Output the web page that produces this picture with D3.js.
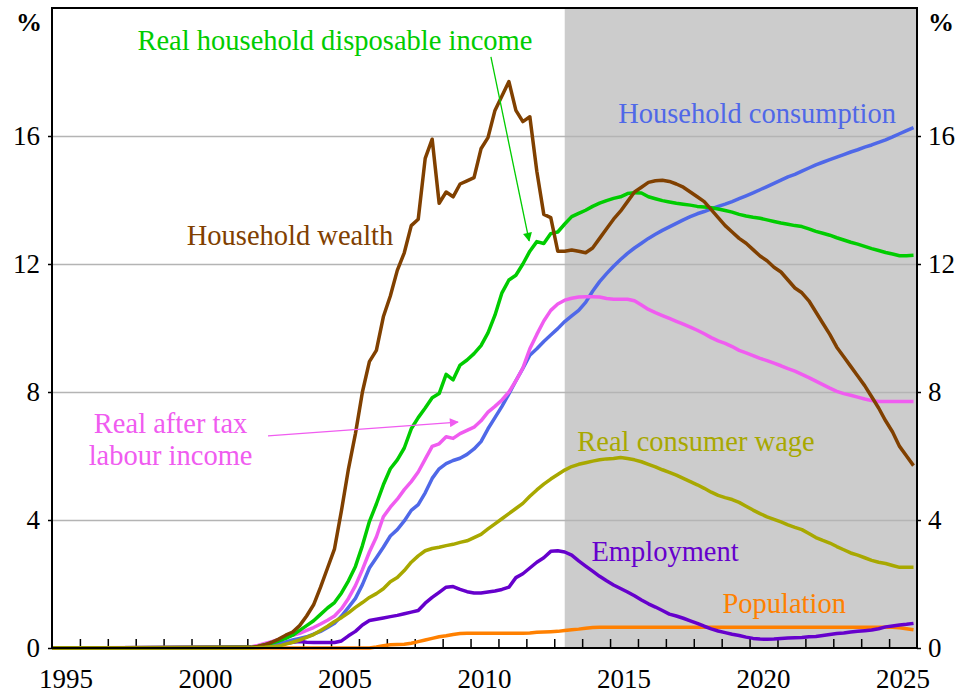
<!DOCTYPE html>
<html>
<head>
<meta charset="utf-8">
<script src="https://cdn.jsdelivr.net/npm/d3@7/dist/d3.min.js"></script>
<style>
  body { margin: 0; background: #fff; }
  text { font-family: "Liberation Serif", "Times New Roman", serif; }
</style>
</head>
<body>
<svg id="chart" width="960" height="695"></svg>
<script>
// quarterly points (mid-quarter) from 2002Q1 to 2025Q4; every series is 0 before that
const firstQuarter = 2002.125;
const flatFrom = 1995;
const projectionStart = 2013.375;
const yearLabels = [1995, 2000, 2005, 2010, 2015, 2020, 2025];
const yTicks = [0, 4, 8, 12, 16];

const householdWealth = [
  0.02, 0.05, 0.1, 0.18, 0.28, 0.4, 0.5, 0.7, 1.0, 1.35, 1.9, 2.5,
  3.1, 4.3, 5.6, 6.7, 8.0, 8.95, 9.3, 10.35, 11.0, 11.8, 12.35, 13.2,
  13.4, 15.3, 15.9, 13.9, 14.25, 14.1, 14.5, 14.6, 14.7, 15.6, 15.95, 16.8,
  17.25, 17.7, 16.8, 16.45, 16.6, 14.9, 13.55, 13.45, 12.4, 12.4, 12.44, 12.4,
  12.35, 12.5, 12.8, 13.1, 13.4, 13.65, 13.95, 14.25, 14.4, 14.55, 14.6, 14.62,
  14.58, 14.5, 14.4, 14.25, 14.1, 13.95, 13.7, 13.45, 13.2, 13.0, 12.8, 12.65,
  12.45, 12.25, 12.1, 11.9, 11.75, 11.5, 11.25, 11.1, 10.85, 10.5, 10.15, 9.8,
  9.4, 9.1, 8.8, 8.5, 8.2, 7.85, 7.5, 7.1, 6.75, 6.3, 6.0, 5.7
];
const disposableIncome = [
  0.02, 0.05, 0.1, 0.15, 0.22, 0.3, 0.4, 0.55, 0.7, 0.85, 1.05, 1.25,
  1.42, 1.72, 2.1, 2.55, 3.2, 3.95, 4.5, 5.1, 5.6, 5.88, 6.25, 6.85,
  7.2, 7.5, 7.82, 7.95, 8.55, 8.38, 8.84, 9.0, 9.2, 9.45, 9.85, 10.4,
  11.1, 11.5, 11.65, 12.0, 12.4, 12.7, 12.64, 12.95, 13.0, 13.25, 13.48, 13.58,
  13.68, 13.8, 13.9, 13.98, 14.05, 14.1, 14.2, 14.23, 14.22, 14.1, 14.04, 13.98,
  13.94, 13.9, 13.87, 13.84, 13.8, 13.78, 13.76, 13.72, 13.67, 13.62, 13.55, 13.5,
  13.46, 13.43, 13.38, 13.33, 13.28, 13.24, 13.2, 13.17, 13.1, 13.02, 12.96, 12.9,
  12.82, 12.75, 12.68, 12.62, 12.55, 12.48, 12.42, 12.36, 12.31, 12.26, 12.26, 12.27
];
const labourIncome = [
  0.03, 0.08, 0.14, 0.2, 0.27, 0.33, 0.4, 0.46, 0.55, 0.64, 0.75, 0.87,
  1.0, 1.23, 1.55, 1.95, 2.45, 3.0, 3.47, 4.1, 4.4, 4.65, 4.95, 5.2,
  5.5, 5.9, 6.3, 6.38, 6.6, 6.55, 6.7, 6.8, 6.9, 7.1, 7.37, 7.55,
  7.75, 8.0, 8.35, 8.75, 9.35, 9.8, 10.22, 10.55, 10.75, 10.87, 10.93, 10.97,
  10.98, 10.98, 10.97, 10.92, 10.9, 10.9, 10.9, 10.85, 10.72, 10.58, 10.48, 10.39,
  10.3, 10.21, 10.12, 10.03, 9.93, 9.82, 9.7, 9.6, 9.52, 9.42, 9.3, 9.22,
  9.14, 9.05, 8.98, 8.9, 8.82, 8.73, 8.65, 8.55, 8.45, 8.34, 8.23, 8.12,
  8.02, 7.95, 7.9, 7.84, 7.78, 7.73, 7.7, 7.7, 7.7, 7.7, 7.7, 7.7
];
const consumption = [
  0.02, 0.04, 0.07, 0.1, 0.14, 0.19, 0.25, 0.3, 0.35, 0.43, 0.52, 0.64,
  0.77, 1.0, 1.27, 1.55, 1.98, 2.5, 2.82, 3.15, 3.5, 3.7, 3.97, 4.3,
  4.48, 4.85, 5.3, 5.6, 5.76, 5.86, 5.93, 6.05, 6.22, 6.45, 6.85, 7.2,
  7.55, 7.94, 8.35, 8.74, 9.15, 9.35, 9.58, 9.78, 9.98, 10.2, 10.38, 10.55,
  10.8, 11.15, 11.45, 11.7, 11.93, 12.14, 12.33, 12.5, 12.65, 12.8, 12.93, 13.05,
  13.16, 13.27, 13.38, 13.48, 13.57, 13.64, 13.72, 13.8, 13.87, 13.95, 14.04, 14.13,
  14.22, 14.32, 14.42, 14.52, 14.62, 14.72, 14.8, 14.9, 15.0, 15.1, 15.18, 15.26,
  15.34, 15.42, 15.5, 15.57, 15.65, 15.72, 15.8, 15.88, 15.97, 16.07, 16.17, 16.26
];
const consumerWage = [
  0.0, 0.01, 0.02, 0.04, 0.06, 0.12, 0.18, 0.25, 0.33, 0.42, 0.55, 0.68,
  0.83, 0.95, 1.1, 1.27, 1.42, 1.58, 1.7, 1.85, 2.07, 2.2, 2.42, 2.68,
  2.88, 3.04, 3.11, 3.15, 3.2, 3.24, 3.3, 3.35, 3.45, 3.55, 3.72, 3.88,
  4.04, 4.2, 4.36, 4.52, 4.74, 4.94, 5.12, 5.28, 5.42, 5.56, 5.67, 5.74,
  5.79, 5.84, 5.88, 5.91, 5.92, 5.95, 5.92, 5.88, 5.82, 5.74, 5.66, 5.57,
  5.49, 5.4, 5.3, 5.2, 5.1, 4.99, 4.87, 4.77, 4.7, 4.64, 4.55, 4.43,
  4.31, 4.2, 4.1, 4.02, 3.94, 3.85, 3.77, 3.7, 3.58, 3.45, 3.36, 3.28,
  3.17, 3.07, 2.97, 2.9, 2.82, 2.74, 2.68, 2.64, 2.58, 2.52, 2.52, 2.52
];
const employment = [
  0.02, 0.04, 0.06, 0.08, 0.1, 0.14, 0.18, 0.2, 0.18, 0.17, 0.17, 0.17,
  0.17, 0.22, 0.38, 0.52, 0.72, 0.86, 0.9, 0.94, 0.98, 1.02, 1.07, 1.12,
  1.17, 1.4, 1.58, 1.74, 1.9, 1.92, 1.83, 1.76, 1.72, 1.72, 1.75, 1.78,
  1.83, 1.9, 2.2, 2.32, 2.5, 2.68, 2.82, 3.02, 3.04, 3.0, 2.9, 2.72,
  2.56, 2.4, 2.24, 2.1, 1.97, 1.86, 1.75, 1.63, 1.5, 1.38, 1.28, 1.17,
  1.06, 1.0, 0.93, 0.85, 0.77, 0.68, 0.6, 0.53, 0.48, 0.43, 0.39, 0.34,
  0.3, 0.28, 0.27, 0.28, 0.3, 0.31, 0.32, 0.33, 0.35, 0.36, 0.39, 0.42,
  0.45, 0.47, 0.5, 0.52, 0.54, 0.56, 0.6, 0.66, 0.69, 0.72, 0.74, 0.77
];
const population = [
  0, 0, 0, 0, 0, 0, 0, 0, 0, 0, 0, 0,
  0, 0, 0, 0, 0, 0, 0.03, 0.07, 0.1, 0.11, 0.12, 0.15,
  0.2, 0.25, 0.3, 0.35, 0.38, 0.42, 0.45, 0.46, 0.46, 0.46, 0.46, 0.46,
  0.46, 0.46, 0.46, 0.46, 0.47, 0.49, 0.5, 0.51, 0.52, 0.55, 0.57, 0.59,
  0.62, 0.64, 0.65, 0.65, 0.65, 0.65, 0.65, 0.65, 0.65, 0.65, 0.65, 0.65,
  0.65, 0.65, 0.65, 0.65, 0.65, 0.65, 0.65, 0.65, 0.65, 0.65, 0.65, 0.65,
  0.65, 0.65, 0.65, 0.65, 0.65, 0.65, 0.65, 0.65, 0.65, 0.65, 0.65, 0.65,
  0.65, 0.65, 0.65, 0.65, 0.65, 0.65, 0.65, 0.65, 0.65, 0.63, 0.6, 0.57
];

const series = [
  {values: population, color: "#ff8000"},
  {values: employment, color: "#6600cc"},
  {values: consumption, color: "#4f68e8"},
  {values: labourIncome, color: "#f05cf0"},
  {values: disposableIncome, color: "#00cc00"},
  {values: householdWealth, color: "#804000"},
  {values: consumerWage, color: "#a8a800"}
];

const plot = {left: 52, right: 917, top: 8, bottom: 648};
const serif = "Liberation Serif, Times New Roman, serif";

let svg = d3.select("#chart");

let x = d3.scaleLinear().domain([1995, 2026]).range([plot.left, plot.right]);
let y = d3.scaleLinear().domain([0, 20]).range([plot.bottom, plot.top]);

// forecast shading
svg.append("rect")
  .attr("x", x(projectionStart))
  .attr("y", y(20))
  .attr("width", x(2026) - x(projectionStart))
  .attr("height", y(0) - y(20))
  .attr("fill", "#cccccc");

// gridlines
let grid = svg.append("g")
  .attr("transform", "translate(" + plot.left + ",0)")
  .call(d3.axisLeft(y).tickValues(yTicks.slice(1)).tickSize(-(plot.right - plot.left)).tickFormat(""));
grid.select(".domain").remove();
grid.selectAll("line").attr("stroke", "#b4b4b4").attr("stroke-width", 1.5);

// year ticks pointing up into the plot
let xAxis = svg.append("g")
  .attr("transform", "translate(0," + plot.bottom + ")")
  .call(d3.axisBottom(x).tickValues(d3.range(1996, 2026)).tickSize(-9).tickSizeOuter(0).tickFormat(""));
xAxis.select(".domain").remove();
xAxis.selectAll("line").attr("stroke", "#000").attr("stroke-width", 1.5);

svg.append("g").selectAll("text")
  .data(yearLabels)
  .enter().append("text")
  .attr("x", function(d) { return x(d + 0.5); })
  .attr("y", 688)
  .attr("text-anchor", "middle")
  .attr("font-family", serif)
  .attr("font-size", 27)
  .text(function(d) { return d; });

let yLeft = svg.append("g")
  .attr("transform", "translate(" + plot.left + ",0)")
  .call(d3.axisLeft(y).tickValues(yTicks).tickSize(4).tickSizeOuter(0).tickPadding(8));
let yRight = svg.append("g")
  .attr("transform", "translate(" + plot.right + ",0)")
  .call(d3.axisRight(y).tickValues(yTicks).tickSize(4).tickSizeOuter(0).tickPadding(7));
[yLeft, yRight].forEach(function(ax) {
  ax.attr("font-family", serif);
  ax.select(".domain").remove();
  ax.selectAll("line").attr("stroke", "#000").attr("stroke-width", 1.5);
  ax.selectAll("text")
    .attr("font-family", serif)
    .attr("font-size", 27)
    .attr("fill", "#000");
});

svg.append("text").attr("x", 29).attr("y", 31).attr("text-anchor", "middle")
  .attr("font-family", serif).attr("font-size", 26).attr("font-weight", "bold").text("%");
svg.append("text").attr("x", 941).attr("y", 31).attr("text-anchor", "middle")
  .attr("font-family", serif).attr("font-size", 26).attr("font-weight", "bold").text("%");

// series
let line = d3.line()
  .x(function(d) { return x(d.t); })
  .y(function(d) { return y(d.v); });

svg.append("g").selectAll("path")
  .data(series)
  .enter().append("path")
  .attr("fill", "none")
  .attr("stroke", function(d) { return d.color; })
  .attr("stroke-width", 3.5)
  .attr("stroke-linejoin", "round")
  .attr("d", function(d) {
    let pts = [{t: flatFrom, v: 0}];
    d.values.forEach(function(v, i) { pts.push({t: firstQuarter + i * 0.25, v: v}); });
    return line(pts);
  });

// frame
svg.append("rect")
  .attr("x", plot.left).attr("y", plot.top)
  .attr("width", plot.right - plot.left).attr("height", plot.bottom - plot.top)
  .attr("fill", "none").attr("stroke", "#000").attr("stroke-width", 2);

// labels (placed in data units)
const notes = [
  {text: "Real household disposable income", t: 2005.14, v: 18.69, color: "#00cc00"},
  {text: "Household wealth", t: 2003.53, v: 12.6, color: "#804000"},
  {text: "Household consumption", t: 2020.27, v: 16.42, color: "#4f68e8"},
  {text: "Real after tax", t: 1999.25, v: 6.72, color: "#f05cf0"},
  {text: "labour income", t: 1999.25, v: 5.72, color: "#f05cf0"},
  {text: "Real consumer wage", t: 2018.08, v: 6.17, color: "#a8a800"},
  {text: "Employment", t: 2016.97, v: 2.72, color: "#6600cc"},
  {text: "Population", t: 2021.24, v: 1.09, color: "#ff8000"}
];
svg.append("g").selectAll("text")
  .data(notes)
  .enter().append("text")
  .attr("x", function(d) { return x(d.t); })
  .attr("y", function(d) { return y(d.v); })
  .attr("text-anchor", "middle")
  .attr("font-family", serif)
  .attr("font-size", 28.5)
  .attr("fill", function(d) { return d.color; })
  .text(function(d) { return d.text; });

const pointers = [
  {from: [2010.73, 18.47], to: [2012.1, 12.72], color: "#00cc00", id: "tipGreen"},
  {from: [2002.74, 6.63], to: [2009.55, 7.06], color: "#f05cf0", id: "tipPink"}
];
let defs = svg.append("defs");
pointers.forEach(function(p) {
  defs.append("marker")
    .attr("id", p.id)
    .attr("viewBox", "0 -5 10 10")
    .attr("refX", 9).attr("refY", 0)
    .attr("markerUnits", "userSpaceOnUse")
    .attr("markerWidth", 11).attr("markerHeight", 9)
    .attr("orient", "auto")
  .append("path")
    .attr("d", "M0,-5L10,0L0,5Z")
    .attr("fill", p.color);
  svg.append("line")
    .attr("x1", x(p.from[0])).attr("y1", y(p.from[1]))
    .attr("x2", x(p.to[0])).attr("y2", y(p.to[1]))
    .attr("stroke", p.color)
    .attr("stroke-width", 1.3)
    .attr("marker-end", "url(#" + p.id + ")");
});
</script>
</body>
</html>
